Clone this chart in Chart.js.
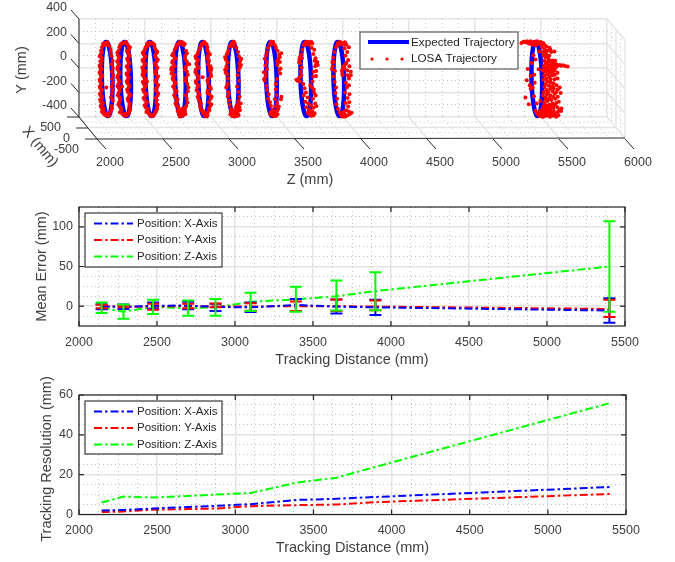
<!DOCTYPE html>
<html>
<head>
<meta charset="utf-8">
<title>LOSA tracking</title>
<script src="https://cdn.jsdelivr.net/npm/chart.js@4/dist/chart.umd.min.js"></script>
<style>
  html, body { margin: 0; padding: 0; background: #fff; }
  body { position: relative; width: 675px; height: 562px; overflow: hidden; }
  canvas { position: absolute; left: 0; }
</style>
</head>
<body>
<canvas id="trajectoryChart" width="675" height="190" style="top:0"></canvas>
<canvas id="errorChart" width="675" height="180" style="top:190px"></canvas>
<canvas id="resolutionChart" width="675" height="187" style="top:375px"></canvas>
<script>
// tracking distances, same for every panel
const distances = [2145, 2285, 2475, 2700, 2875, 3100, 3390, 3650, 3900, 5400];

// mean error panel
const meanX = [-0.5, -1, 0.5, 0.8, -1, -1.5, 1.5, -0.5, -1.5, -5.5];
const meanY = [0, -0.5, -0.8, 0.5, -0.5, -0.5, 0, 0, -0.5, -3.5];
const meanZ = [-2, -7, -1, -2.5, -1.5, 5.5, 8.5, 12.5, 19, 50];
const highX = [2.5, 2, 4.6, 5.5, 3, 4.6, 9, 8.4, 8, 10];
const lowX = [-4, -3.5, -3.4, -3.8, -6, -7.5, -6, -9.3, -11, -21];
const highY = [1.8, 1.5, 3, 3, 3.4, 3.8, 6, 8.4, 7, 8];
const lowY = [-2.5, -1.5, -4.6, -2.5, -1.5, -5.8, -6, -6, -5, -13.5];
const highZ = [4.6, 2, 8, 7, 9, 17, 24.5, 32.5, 42.6, 107];
const lowZ = [-8.5, -16, -10, -12, -12, -6, -7, -5.5, -5, -7];

// resolution panel
const resX = [2, 2.3, 3, 3.8, 4.3, 5.2, 7.3, 7.9, 8.8, 13.8];
const resY = [1.2, 1.5, 2.4, 2.7, 3, 4.2, 4.7, 5, 6.2, 10.3];
const resZ = [6, 9, 8.5, 9.3, 10, 10.8, 16, 18.5, 24, 56];

// 3D panel ticks
const zTicks = [2000, 2500, 3000, 3500, 4000, 4500, 5000, 5500, 6000];
const yTicks = [400, 200, 0, -200, -400];
const xTicks = [500, 0, -500];

// expected trajectory: one circle in the X/Y plane, flown at each distance
const ringX = [300, 277, 212, 115, 0, -115, -212, -277, -300, -277, -212, -115, 0, 115, 212, 277, 300];
const ringY = [0, 115, 212, 277, 300, 277, 212, 115, 0, -115, -212, -277, -300, -277, -212, -115, 0];

// LOSA points: centre of each ring, then [z offset, y] pairs
const losaCentres = [2212, 2348, 2545, 2773, 2947, 3167, 3462, 3727, 3977, 5477];
const losa1 = [[-30,195],[-20,205],[-8,200],[5,195],[18,180],[-38,170],[-45,140],[-48,110],[-42,85],[-50,55],[-45,30],[-52,5],[-47,-20],[-50,-50],[-44,-80],[-52,-110],[-47,-140],[-50,-165],[-44,-195],[-48,-225],[-40,-250],[-46,-275],[-38,-300],[-42,-325],[-30,-345],[-32,-365],[-20,-380],[-8,-388],[6,-385],[18,-375],[30,-350],[-5,-160],[34,-310],[40,-255],[28,150],[-42,-10],[-36,-60],
    [-38,130],[-55,95],[-40,60],[-56,20],[-42,-5],[-56,-35],[-40,-65],[-56,-95],[-40,-125],[-55,-150],[-38,-180],[-54,-210],[-35,-235],[-52,-260],[-30,-285],[-48,-310],[-25,-330],[-38,-355],[-12,-370],[2,-375],[12,-392],[25,-360],[38,-330],[44,-270],[30,-240],[38,-210],[42,-180],[36,-150],[44,-120],[38,-90],[46,-60],[38,-30],[44,0],[36,30],[42,60],[34,95],[28,125],[-12,190],[2,210],[-22,185]];
const losa2 = [[-42,170],[-30,195],[-15,205],[0,208],[15,195],[28,170],[-48,140],[-52,105],[-46,75],[-50,40],[-54,10],[-48,-25],[-52,-60],[-47,-95],[-50,-130],[-45,-165],[-48,-205],[-40,-240],[-44,-280],[-35,-320],[-30,-350],[-18,-378],[-4,-390],[12,-388],[28,-370],[32,150],[25,120],[30,90],[22,60],[28,30],[20,0],[26,-30],[18,-60],[24,-90],[20,-125],[28,-160],[22,-195],[30,-235],[25,-270],[35,-310],[42,-225],[38,170],[-22,-150],
    [-36,185],[-22,200],[8,212],[22,185],[-58,125],[-44,90],[-58,55],[-44,25],[-58,-8],[-44,-42],[-58,-78],[-42,-112],[-56,-148],[-40,-185],[-54,-222],[-36,-260],[-50,-300],[-28,-335],[-38,-362],[-10,-382],[5,-372],[20,-380],[35,-350],[40,-335],[14,138],[34,105],[16,75],[34,45],[14,15],[32,-15],[12,-45],[30,-75],[14,-108],[32,-142],[16,-178],[36,-215],[20,-252],[36,-290]];
const losa3 = [[-40,170],[-30,195],[-18,205],[-5,208],[10,205],[25,190],[-50,140],[-55,110],[-48,80],[-56,50],[-50,20],[-58,-10],[-50,-40],[-55,-70],[-48,-100],[-54,-130],[-46,-160],[-52,-195],[-42,-225],[-48,-260],[-36,-290],[-40,-320],[-28,-345],[-18,-368],[-5,-385],[10,-385],[28,-375],[40,-350],[45,-320],[35,150],[42,120],[38,85],[45,55],[36,20],[42,-15],[38,-50],[46,-85],[40,-120],[48,-155],[42,-190],[50,-225],[44,-262],[-62,60],[-60,-30],[-30,-110],[52,-300],
    [-44,155],[-25,182],[-10,195],[18,198],[-62,125],[-42,95],[-64,65],[-44,35],[-66,5],[-42,-25],[-64,-55],[-40,-85],[-62,-115],[-38,-145],[-60,-178],[-36,-210],[-56,-245],[-30,-275],[-48,-305],[-22,-335],[-34,-360],[-12,-378],[2,-392],[18,-392],[34,-362],[48,-335],[28,168],[48,135],[30,102],[52,70],[30,38],[50,2],[30,-32],[54,-68],[32,-102],[56,-138],[34,-172],[56,-208],[36,-245],[40,-285]];
const losa4 = [[-35,175],[-22,200],[-10,210],[2,212],[14,208],[28,195],[-48,150],[-58,120],[-50,90],[-62,60],[-55,30],[-70,5],[-60,-20],[-72,-45],[-58,-70],[-55,-100],[-48,-135],[-50,-170],[-40,-205],[-44,-240],[-30,-275],[-35,-305],[-18,-330],[-12,-360],[-2,-380],[10,-390],[24,-380],[30,-355],[12,-330],[-5,-345],[38,140],[32,100],[42,55],[36,10],[45,-30],[38,-80],[48,-130],[52,-190],[44,-250],[40,-310],[62,30],[-75,-15],[-10,-395],[18,200],[5,-365],
    [-28,190],[-12,198],[6,198],[20,185],[-40,165],[-66,105],[-44,75],[-68,45],[-48,15],[-64,-8],[-48,-55],[-64,-85],[-42,-118],[-60,-150],[-34,-188],[-52,-222],[-26,-258],[-42,-290],[-22,-318],[-26,-350],[-16,-378],[16,-372],[34,-375],[20,-345],[44,120],[28,78],[50,32],[30,-12],[52,-55],[32,-105],[56,-160],[36,-222],[50,-282],[30,-330]];
const losa5 = [[-30,165],[-18,195],[-5,205],[8,205],[20,190],[-40,140],[-50,110],[-60,80],[-52,50],[-48,15],[-62,-15],[-55,-50],[-45,-90],[-58,-125],[-50,-160],[-42,-200],[-48,-235],[-35,-270],[-30,-305],[-20,-340],[-8,-370],[5,-390],[18,-380],[30,-360],[25,170],[32,130],[28,95],[38,60],[30,30],[42,0],[46,-20],[50,-45],[36,-85],[30,-120],[44,-150],[28,-185],[42,-215],[50,-250],[36,-280],[48,-310],[40,-345],[22,-395],[-10,-75],[55,-5],[52,-20],[0,-355],
    [-22,182],[-10,192],[2,212],[14,198],[-46,125],[-64,95],[-44,65],[-58,32],[-40,0],[-66,-32],[-42,-70],[-62,-108],[-40,-142],[-56,-180],[-34,-218],[-42,-252],[-24,-288],[-26,-322],[-12,-355],[10,-375],[26,-385],[36,-330],[56,-295],[58,-235],[24,150],[44,112],[22,75],[48,15],[54,-65],[26,-102],[52,-170],[26,-205]];
const losa6 = [[-25,175],[-12,200],[0,208],[12,200],[-35,140],[-48,110],[-55,70],[-42,45],[-50,15],[-60,-15],[-45,-50],[-38,-85],[-42,-125],[-52,-160],[-36,-195],[-40,-230],[-30,-265],[-25,-300],[-15,-335],[-5,-365],[-20,-378],[-8,-392],[6,-390],[20,-385],[35,-375],[38,-350],[28,-330],[48,-320],[32,-300],[40,-270],[25,165],[38,130],[45,95],[55,60],[48,35],[60,25],[42,-20],[35,-60],[45,-105],[30,-150],[42,-195],[50,-235],[5,-345],[18,-360],[-2,-375],
    [-16,188],[-6,196],[6,215],[-8,180],[2,185],[-42,125],[-60,88],[-48,-5],[-56,-38],[-46,-145],[-30,-210],[-12,-350],[-14,-365],[-2,-355],[8,-372],[14,-378],[26,-362],[42,-385],[30,-392],[12,-395],[52,-345],[22,-318],[58,-290],[62,75],[52,5]];
const losa7 = [[-38,130],[-30,165],[-15,195],[-2,208],[10,205],[22,185],[-42,105],[-55,75],[-40,50],[-50,20],[-38,-10],[-62,-35],[-48,-70],[-55,-105],[-42,-145],[-38,-180],[-25,-215],[-30,-250],[-15,-280],[-8,-310],[5,-340],[-10,-360],[2,-385],[14,-392],[25,-375],[38,-350],[30,165],[42,140],[55,110],[48,75],[60,50],[42,25],[55,-15],[62,-45],[38,-90],[30,-130],[28,-175],[35,-220],[22,-255],[38,-285],[28,-315],[48,-335],[12,-365],[70,120],[65,-5],
    [-10,190],[2,196],[-6,215],[8,215],[-60,-90],[-12,-375],[-2,-368],[10,-378],[20,-360],[30,-392],[42,-378],[5,-355],[52,-315],[68,-255],[72,-235],[-48,-40],[40,55],[60,90]];
const losa8 = [[-25,185],[-10,210],[2,215],[15,212],[28,208],[40,200],[-5,195],[12,190],[-35,150],[-45,110],[-38,80],[-58,70],[-50,40],[-40,5],[-72,-105],[-55,-110],[-42,-60],[-28,-130],[-18,-165],[-8,-200],[-25,-225],[5,-240],[-12,-275],[10,-290],[-5,-320],[18,-340],[5,-365],[20,-380],[35,-390],[50,-385],[35,165],[55,150],[48,115],[65,80],[58,60],[78,50],[62,15],[50,-30],[68,-65],[42,-110],[38,-160],[55,-205],[45,-250],[62,-290],[50,-325],[40,-355],[30,-305],[58,-370],[25,-140],
    [-18,200],[-4,205],[8,205],[22,198],[34,212],[-52,90],[-60,45],[-58,-80],[-80,-95],[-48,-30],[70,-25],[52,-175],[66,-225],[72,-310],[28,-375],[12,-372],[44,-378],[30,-365],[70,30],[82,25],[46,-70]];
const losa9 = [[-30,170],[-15,205],[0,215],[12,205],[-42,130],[-50,85],[-45,50],[-55,15],[-38,-25],[-48,-70],[-40,-115],[-30,-160],[-35,-205],[-22,-250],[-28,-295],[-15,-335],[-2,-365],[10,-385],[22,-390],[32,-375],[42,-395],[25,205],[38,210],[48,190],[35,160],[55,130],[42,100],[62,65],[48,40],[72,15],[55,-20],[82,-30],[60,-60],[68,-85],[45,-120],[52,-160],[38,-200],[58,-245],[42,-285],[62,-315],[48,-345],[75,-375],[88,-365],[30,-355],[20,-60],[15,-20],
    [-20,192],[-6,190],[6,195],[18,198],[32,190],[-58,50],[-60,-10],[40,30],[28,15],[35,-5],[22,10],[18,-45],[82,-60],[68,-140],[70,-280],[10,-370],[22,-375],[14,-395],[28,-395],[38,-385],[58,-385],[68,-355],[72,-215],[68,170]];
const losa10 = [[-125,205],[-110,215],[-95,210],[-82,218],[-68,212],[-55,218],[-42,205],[-30,215],[-18,208],[-5,218],[8,205],[20,212],[-60,195],[-38,190],[-15,185],[-2,195],[30,195],[48,190],[65,175],[88,165],[30,170],[50,155],[72,140],[100,130],[38,130],[62,115],[85,100],[55,90],[78,75],[110,62],[130,60],[150,18],[175,18],[205,16],[225,12],[190,22],[165,25],[140,30],[120,25],[100,32],[80,20],[60,35],[45,15],[35,-20],[55,-30],[78,-22],[100,-15],[125,-18],[148,-38],[128,-55],[108,-60],[85,-72],[62,-85],[42,-95],[70,-110],[95,-118],[118,-125],[140,-140],[165,-160],[120,-165],[92,-172],[65,-180],[45,-195],[38,-225],[68,-215],[95,-225],[128,-210],[150,-175],[172,-205],[130,-250],[100,-262],[72,-270],[48,-285],[40,-315],[62,-305],[88,-300],[112,-290],[138,-285],[158,-275],[148,-320],[118,-325],[92,-335],[68,-342],[178,-330],[175,-352],[150,-360],[125,-372],[100,-368],[75,-375],[50,-370],[25,-375],[5,-380],[22,-392],[45,-395],[68,-390],[92,-397],[115,-390],[138,-397],[-18,-350],[-8,-372],[12,-355],[30,-340],[-10,-290],[18,-270],[-30,-230],[-85,-100],[-62,-140],[-55,-65],[-78,-8],[-28,-55],[-40,-160],[-95,-240],[-70,-295],[-55,-170],[-35,105],[-48,40],[-18,70],[5,-10],[10,135],[-25,-120],
    [-48,200],[-22,198],[-8,205],[14,198],[40,205],[-75,205],[95,150],[125,135],[60,135],[42,105],[68,95],[92,60],[115,40],[75,50],[48,60],[95,8],[70,2],[110,5],[135,2],[52,-8],[88,-38],[112,-35],[72,-50],[48,-62],[95,-92],[125,-92],[148,-85],[58,-130],[82,-145],[108,-148],[50,-155],[78,-198],[112,-192],[140,-195],[58,-240],[85,-245],[115,-235],[150,-235],[60,-258],[130,-300],[105,-310],[78,-318],[55,-330],[120,-350],[95,-355],[70,-358],[45,-352],[160,-345],[35,-365],[55,-385],[80,-385],[105,-382],[128,-385],[155,-385],[10,-392],[35,-397]];
const losaRings = [losa1, losa2, losa3, losa4, losa5, losa6, losa7, losa8, losa9, losa10];

const TEXT_COLOR = '#404040';
const AXIS_COLOR = '#262626';
const GRID_MAJOR = '#e4e4e4';
const GRID_MINOR = '#b4b4b4';
const BLUE = '#0000ff';
const RED = '#ff0000';
const GREEN = '#00ff00';
const DASH_DOT = [8, 3, 2.5, 3];
const FONT = '"Liberation Sans", Arial, sans-serif';

// the panel looks along X: how far a point moves per mm of X, in axis units
const X_TO_Z = 0.136;
const X_TO_Y = 0.18;
const DEPTH_X = 18;
const DEPTH_Y = 21;

function gridOptions(majorStep) {
    return {
        color: ctx => (ctx.tick && ctx.tick.value % majorStep === 0 ? GRID_MAJOR : GRID_MINOR),
        lineWidth: ctx => (ctx.tick && ctx.tick.value % majorStep === 0 ? 1.5 : 0.8),
        drawTicks: false,
    };
}

function borderOptions(majorStep) {
    return {
        display: false,
        dash: ctx => (ctx.tick && ctx.tick.value % majorStep === 0 ? [] : [1, 3]),
    };
}

function axis2d(min, max, step, majorStep, title, size, titlePad, isX) {
    return {
        type: 'linear',
        min: min,
        max: max,
        grid: gridOptions(majorStep),
        border: borderOptions(majorStep),
        afterFit: s => { if (isX) s.height = size; else s.width = size; },
        ticks: {
            stepSize: step,
            autoSkip: false,
            maxRotation: 0,
            padding: isX ? 9 : 6,
            color: TEXT_COLOR,
            font: { family: FONT, size: 12.5 },
            callback: v => (v % majorStep === 0 ? String(v) : ''),
        },
        title: {
            display: title !== '',
            text: title,
            color: TEXT_COLOR,
            font: { family: FONT, size: 14.5 },
            padding: titlePad,
        },
    };
}

// box round the plot with inward ticks on all four sides
function boxPlugin(xMajors, yMajors) {
    return {
        id: 'boxAxes',
        afterDatasetsDraw(chart) {
            const { ctx, chartArea: a, scales } = chart;
            ctx.save();
            ctx.strokeStyle = AXIS_COLOR;
            ctx.lineWidth = 1.2;
            ctx.strokeRect(a.left, a.top, a.right - a.left, a.bottom - a.top);
            ctx.beginPath();
            xMajors.forEach(v => {
                const px = scales.x.getPixelForValue(v);
                ctx.moveTo(px, a.bottom); ctx.lineTo(px, a.bottom - 5);
                ctx.moveTo(px, a.top); ctx.lineTo(px, a.top + 5);
            });
            yMajors.forEach(v => {
                const py = scales.y.getPixelForValue(v);
                ctx.moveTo(a.left, py); ctx.lineTo(a.left + 5, py);
                ctx.moveTo(a.right, py); ctx.lineTo(a.right - 5, py);
            });
            ctx.stroke();
            ctx.restore();
        },
    };
}

function errorBarPlugin(bars) {
    return {
        id: 'errorBars',
        afterDatasetsDraw(chart) {
            const { ctx, scales } = chart;
            ctx.save();
            ctx.lineWidth = 2;
            bars.forEach(bar => {
                ctx.strokeStyle = bar.color;
                ctx.beginPath();
                distances.forEach((d, i) => {
                    const px = scales.x.getPixelForValue(d);
                    const hi = scales.y.getPixelForValue(bar.high[i]);
                    const lo = scales.y.getPixelForValue(bar.low[i]);
                    ctx.moveTo(px, hi); ctx.lineTo(px, lo);
                    ctx.moveTo(px - 6, hi); ctx.lineTo(px + 6, hi);
                    ctx.moveTo(px - 6, lo); ctx.lineTo(px + 6, lo);
                });
                ctx.stroke();
            });
            ctx.restore();
        },
    };
}

// legend sits inside the axes, so it is drawn last from the dataset labels
function linesLegend(box) {
    return {
        id: 'linesLegend',
        afterDraw(chart) {
            const ctx = chart.ctx;
            ctx.save();
            ctx.fillStyle = '#fff';
            ctx.fillRect(box.left, box.top, box.width, box.height);
            ctx.strokeStyle = '#3a3a3a';
            ctx.lineWidth = 1.2;
            ctx.strokeRect(box.left, box.top, box.width, box.height);
            ctx.font = '11.5px ' + FONT;
            ctx.textBaseline = 'middle';
            chart.data.datasets.forEach((ds, i) => {
                const y = box.top + 10.5 + i * 16.5;
                ctx.strokeStyle = ds.borderColor;
                ctx.lineWidth = 2;
                ctx.setLineDash(DASH_DOT);
                ctx.beginPath();
                ctx.moveTo(box.left + 9, y);
                ctx.lineTo(box.left + 48, y);
                ctx.stroke();
                ctx.setLineDash([]);
                ctx.fillStyle = '#262626';
                ctx.fillText(ds.label, box.left + 52, y);
            });
            ctx.restore();
        },
    };
}

// the resolution title sits a little below the middle of its axis
const resolutionTitle = {
    id: 'resolutionTitle',
    afterDraw(chart) {
        const ctx = chart.ctx;
        ctx.save();
        ctx.translate(47, 84);
        ctx.rotate(-Math.PI / 2);
        ctx.fillStyle = TEXT_COLOR;
        ctx.font = '14.5px ' + FONT;
        ctx.textAlign = 'center';
        ctx.textBaseline = 'middle';
        ctx.fillText('Tracking Resolution (mm)', 0, 0);
        ctx.restore();
    },
};

// floor, right wall and the axes of the 3D view, hung off the back wall scales
const wallsPlugin = {
    id: 'walls',
    beforeDatasetsDraw(chart) {
        const { ctx, chartArea: a, scales } = chart;
        const zs = scales.x;
        const ys = scales.y;
        ctx.save();
        // floor and right wall minor lines
        ctx.strokeStyle = GRID_MINOR;
        ctx.lineWidth = 0.8;
        ctx.setLineDash([1, 3]);
        ctx.beginPath();
        for (let k = 1; k < 4; k += 2) {
            const dx = DEPTH_X * k / 4;
            const dy = DEPTH_Y * k / 4;
            ctx.moveTo(a.left + dx, a.bottom + dy);
            ctx.lineTo(a.right + dx, a.bottom + dy);
            ctx.moveTo(a.right + dx, a.top + dy);
            ctx.lineTo(a.right + dx, a.bottom + dy);
        }
        yTicks.forEach(v => {
            const py = ys.getPixelForValue(v - 100);
            if (v - 100 >= -400) {
                ctx.moveTo(a.right, py);
                ctx.lineTo(a.right + DEPTH_X, py + DEPTH_Y);
            }
        });
        zTicks.forEach(v => {
            if (v === 6000) return;
            [125, 250, 375].forEach(step => {
                const px = zs.getPixelForValue(v + step);
                ctx.moveTo(px, a.bottom);
                ctx.lineTo(px + DEPTH_X, a.bottom + DEPTH_Y);
            });
        });
        ctx.stroke();
        // floor and right wall major lines
        ctx.setLineDash([]);
        ctx.strokeStyle = GRID_MAJOR;
        ctx.lineWidth = 1.3;
        ctx.beginPath();
        zTicks.forEach(v => {
            const px = zs.getPixelForValue(v);
            ctx.moveTo(px, a.bottom);
            ctx.lineTo(px + DEPTH_X, a.bottom + DEPTH_Y);
        });
        yTicks.forEach(v => {
            const py = ys.getPixelForValue(v);
            ctx.moveTo(a.right, py);
            ctx.lineTo(a.right + DEPTH_X, py + DEPTH_Y);
        });
        ctx.moveTo(a.left + DEPTH_X / 2, a.bottom + DEPTH_Y / 2);
        ctx.lineTo(a.right + DEPTH_X / 2, a.bottom + DEPTH_Y / 2);
        ctx.moveTo(a.right + DEPTH_X / 2, a.top + DEPTH_Y / 2);
        ctx.lineTo(a.right + DEPTH_X / 2, a.bottom + DEPTH_Y / 2);
        ctx.moveTo(a.right + DEPTH_X, a.top + DEPTH_Y);
        ctx.lineTo(a.right + DEPTH_X, a.bottom + DEPTH_Y);
        ctx.stroke();
        // axis lines and ticks
        ctx.strokeStyle = AXIS_COLOR;
        ctx.lineWidth = 1;
        ctx.beginPath();
        ctx.moveTo(a.left, a.top); ctx.lineTo(a.left, a.bottom);
        ctx.lineTo(a.left + DEPTH_X, a.bottom + DEPTH_Y + 1);
        ctx.lineTo(a.right + DEPTH_X, a.bottom + DEPTH_Y);
        zTicks.forEach(v => {
            const px = zs.getPixelForValue(v) + DEPTH_X;
            ctx.moveTo(px, a.bottom + DEPTH_Y + 1);
            ctx.lineTo(px + 9, a.bottom + DEPTH_Y + 11);
        });
        yTicks.forEach(v => {
            const py = ys.getPixelForValue(v);
            ctx.moveTo(a.left, py);
            ctx.lineTo(a.left - 8, py - 9);
        });
        xTicks.forEach(v => {
            const t = (500 - v) / 1000;
            const px = a.left + DEPTH_X * t;
            const py = a.bottom + (DEPTH_Y + 1) * t;
            ctx.moveTo(px, py);
            ctx.lineTo(px - 12, py);
        });
        ctx.stroke();
        ctx.restore();
    },
    afterDraw(chart) {
        const { ctx, chartArea: a, scales } = chart;
        ctx.save();
        ctx.fillStyle = TEXT_COLOR;
        ctx.font = '12.5px ' + FONT;
        ctx.textBaseline = 'middle';
        ctx.textAlign = 'center';
        zTicks.forEach(v => {
            ctx.fillText(String(v), scales.x.getPixelForValue(v) + DEPTH_X + 13, 163);
        });
        ctx.textAlign = 'right';
        yTicks.forEach(v => {
            ctx.fillText(String(v), a.left - 12, scales.y.getPixelForValue(v) - 11);
        });
        xTicks.forEach(v => {
            const t = (500 - v) / 1000;
            ctx.fillText(String(v), a.left - 18 + DEPTH_X * t, a.bottom + 11 + (DEPTH_Y + 1) * t);
        });
        ctx.font = '14.5px ' + FONT;
        ctx.textAlign = 'center';
        ctx.fillText('Z (mm)', 310, 180);
        ctx.save();
        ctx.translate(22, 70);
        ctx.rotate(-Math.PI / 2);
        ctx.fillText('Y (mm)', 0, 0);
        ctx.restore();
        ctx.save();
        ctx.translate(40, 147);
        ctx.rotate(50 * Math.PI / 180);
        ctx.fillText('X (mm)', 0, 0);
        ctx.restore();

        // legend
        const box = { left: 360, top: 32, width: 158, height: 37 };
        ctx.fillStyle = '#fff';
        ctx.fillRect(box.left, box.top, box.width, box.height);
        ctx.strokeStyle = '#666';
        ctx.lineWidth = 1.3;
        ctx.strokeRect(box.left, box.top, box.width, box.height);
        ctx.strokeStyle = BLUE;
        ctx.lineWidth = 4;
        ctx.beginPath();
        ctx.moveTo(368, 42);
        ctx.lineTo(409, 42);
        ctx.stroke();
        ctx.fillStyle = RED;
        [372, 387, 402].forEach(px => {
            ctx.beginPath();
            ctx.arc(px, 59, 1.6, 0, 2 * Math.PI);
            ctx.fill();
        });
        ctx.fillStyle = '#262626';
        ctx.font = '11.7px ' + FONT;
        ctx.textAlign = 'left';
        ctx.fillText('Expected Trajectory', 411, 43);
        ctx.fillText('LOSA Trajectory', 411, 59);
        ctx.restore();
    },
};

Chart.defaults.animation = false;
Chart.defaults.responsive = false;

const expectedSets = distances.map(d => ({
    label: 'Expected Trajectory',
    data: ringX.map((x, i) => ({ x: d + (500 - x) * X_TO_Z, y: ringY[i] - (500 - x) * X_TO_Y })),
    showLine: true,
    borderColor: BLUE,
    borderWidth: 4.5,
    tension: 0.4,
    pointRadius: 0,
    clip: false,
    order: 2,
}));

const losaSet = {
    label: 'LOSA Trajectory',
    data: losaRings.flatMap((ring, r) => ring.map(p => ({ x: losaCentres[r] + p[0], y: p[1] }))),
    showLine: false,
    backgroundColor: RED,
    borderColor: RED,
    pointRadius: 2,
    pointBorderWidth: 0,
    clip: false,
    order: 1,
};

function zeroSize(s) {
    if (s.isHorizontal()) s.height = 0; else s.width = 0;
}

new Chart(document.getElementById('trajectoryChart'), {
    type: 'scatter',
    data: { datasets: [...expectedSets, losaSet] },
    options: {
        layout: { padding: { left: 79, right: 68, top: 19, bottom: 73 } },
        plugins: { legend: { display: false }, tooltip: { enabled: false } },
        scales: {
            x: {
                type: 'linear', min: 2000, max: 6000,
                grid: gridOptions(500), border: borderOptions(500),
                ticks: { stepSize: 125, display: false },
                afterFit: zeroSize,
            },
            y: {
                type: 'linear', min: -400, max: 400,
                grid: gridOptions(200), border: borderOptions(200),
                ticks: { stepSize: 100, display: false },
                afterFit: zeroSize,
            },
        },
    },
    plugins: [wallsPlugin],
});

function lineSet(label, values, color) {
    return {
        label: label,
        data: distances.map((d, i) => ({ x: d, y: values[i] })),
        borderColor: color,
        backgroundColor: color,
        borderWidth: 2,
        borderDash: DASH_DOT,
        pointRadius: 0,
        tension: 0,
    };
}

const xMajors = [2000, 2500, 3000, 3500, 4000, 4500, 5000, 5500];

new Chart(document.getElementById('errorChart'), {
    type: 'line',
    data: {
        datasets: [
            lineSet('Position: X-Axis', meanX, BLUE),
            lineSet('Position: Y-Axis', meanY, RED),
            lineSet('Position: Z-Axis', meanZ, GREEN),
        ],
    },
    options: {
        layout: { padding: { left: 0, right: 50, top: 17, bottom: 0 } },
        plugins: { legend: { display: false }, tooltip: { enabled: false } },
        scales: {
            x: axis2d(2000, 5500, 125, 500, 'Tracking Distance (mm)', 44, { top: 0, bottom: 1 }, true),
            y: axis2d(-25, 125, 12.5, 50, 'Mean Error (mm)', 79, { top: 33, bottom: 0 }, false),
        },
    },
    plugins: [
        boxPlugin(xMajors, [0, 50, 100]),
        errorBarPlugin([
            { color: BLUE, high: highX, low: lowX },
            { color: RED, high: highY, low: lowY },
            { color: GREEN, high: highZ, low: lowZ },
        ]),
        linesLegend({ left: 85, top: 23, width: 137, height: 54 }),
    ],
});

new Chart(document.getElementById('resolutionChart'), {
    type: 'line',
    data: {
        datasets: [
            lineSet('Position: X-Axis', resX, BLUE),
            lineSet('Position: Y-Axis', resY, RED),
            lineSet('Position: Z-Axis', resZ, GREEN),
        ],
    },
    options: {
        layout: { padding: { left: 0, right: 49, top: 20, bottom: 0 } },
        plugins: { legend: { display: false }, tooltip: { enabled: false } },
        scales: {
            x: axis2d(2000, 5500, 125, 500, 'Tracking Distance (mm)', 47.5, { top: 0, bottom: 5 }, true),
            y: axis2d(0, 60, 5, 20, '', 79, { top: 0, bottom: 0 }, false),
        },
    },
    plugins: [
        boxPlugin(xMajors, [0, 20, 40, 60]),
        resolutionTitle,
        linesLegend({ left: 85, top: 26, width: 137, height: 53 }),
    ],
});
</script>
</body>
</html>
